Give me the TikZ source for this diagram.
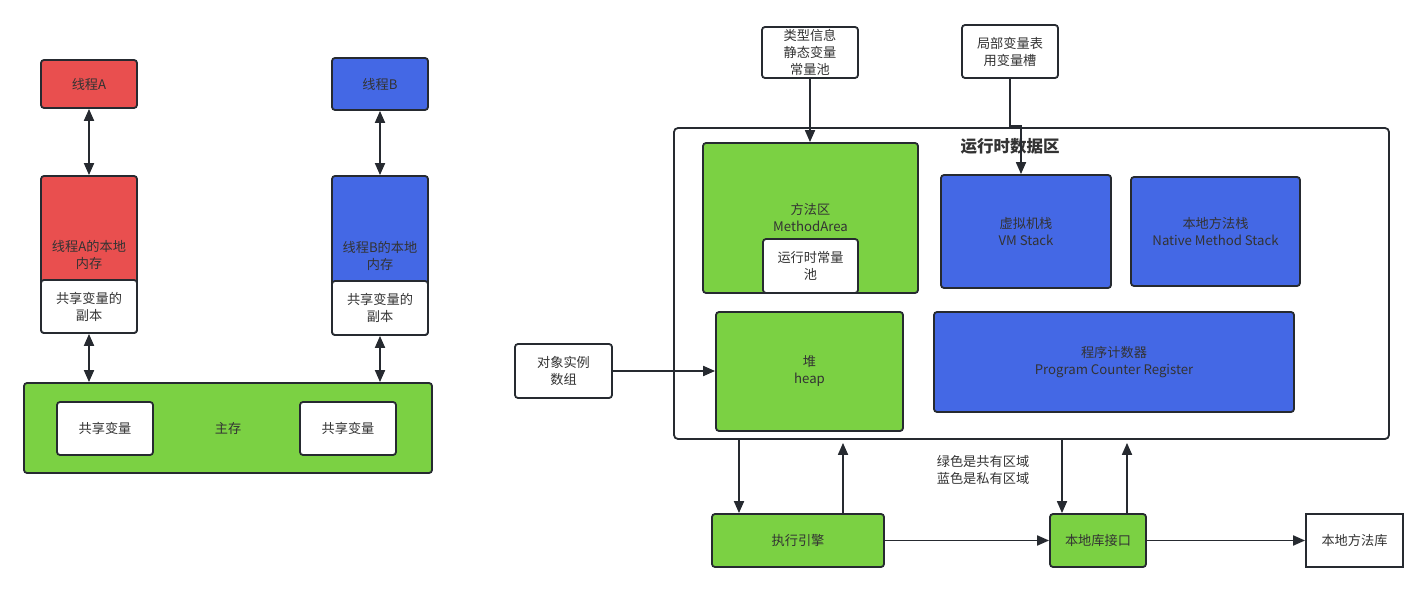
\documentclass[tikz,border=0pt]{standalone}
\usepackage{fontspec}
\setmainfont{Noto Sans CJK SC}
\usepackage{xcolor}
\definecolor{ThreadRed}{HTML}{E94F4F}
\definecolor{ThreadBlue}{HTML}{4468E5}
\definecolor{AreaGreen}{HTML}{7BD143}
\definecolor{EdgeDark}{HTML}{262A30}
\definecolor{TextGrey}{HTML}{333333}
\usetikzlibrary{positioning,arrows.meta}

\begin{document}
\begin{tikzpicture}[x=1pt, y=-1pt,
  box/.style={draw=EdgeDark, line width=1.8pt, rounded corners=3pt, fill=white,
    text=TextGrey, align=center, inner sep=0pt,
    font=\fontsize{13.2}{17}\selectfont},
  arr/.style={draw=EdgeDark, line width=1.8pt, -{Triangle[length=12pt,width=10pt]}},
  dbl/.style={draw=EdgeDark, line width=1.8pt,
    {Triangle[length=12pt,width=10pt]}-{Triangle[length=12pt,width=10pt]}}]
  \useasboundingbox (0,0) rectangle (1427,593);

  %% threads and their local memory
  \node (thA) [box, fill=ThreadRed, minimum width=96, minimum height=48] at (89,84) {线程A};
  \node (thB) [box, fill=ThreadBlue, minimum width=96, minimum height=52] at (380,84) {线程B};
  \node (memA) [box, fill=ThreadRed, minimum width=96, minimum height=157] at (89,254.5) {线程A的本地\\内存};
  \node (copyA) [box, minimum width=96, minimum height=53] at (89,306.5) {共享变量的\\副本};
  \node (memB) [box, fill=ThreadBlue, minimum width=96, minimum height=159] at (380,255.5) {线程B的本地\\内存};
  \node (copyB) [box, minimum width=96, minimum height=54] at (380,308) {共享变量的\\副本};

  %% main memory
  \node (mainmem) [box, fill=AreaGreen, minimum width=408, minimum height=90] at (228,428) {主存};
  \node (sharedA) [box, minimum width=96, minimum height=53] at (105,428.5) {共享变量};
  \node (sharedB) [box, minimum width=96, minimum height=53] at (348,428.5) {共享变量};

  \draw[dbl] (thA) -- (memA.north);
  \draw[dbl] (thB) -- (memB.north);
  \draw[dbl] (copyA.south) -- (copyA.south |- mainmem.north);
  \draw[dbl] (copyB.south) -- (copyB.south |- mainmem.north);

  %% runtime data area
  \node (rda) [box, rounded corners=4pt, minimum width=715, minimum height=311] at (1031.5,283.5) {};
  \node (rdatitle) [text=TextGrey, font=\fontsize{16.5}{20}\selectfont\bfseries] at (1010,146) {运行时数据区};
  \node (method) [box, fill=AreaGreen, minimum width=215, minimum height=150] at (810.5,218) {方法区\\MethodArea};
  \node (pool) [box, minimum width=95, minimum height=54] at (810.5,266) {运行时常量\\池};
  \node (vmstack) [box, fill=ThreadBlue, minimum width=170, minimum height=113] at (1026,231.5) {虚拟机栈\\VM Stack};
  \node (nstack) [box, fill=ThreadBlue, minimum width=169, minimum height=109] at (1215.5,231.5) {本地方法栈\\Native Method Stack};
  \node (heap) [box, fill=AreaGreen, minimum width=187, minimum height=119] at (809.5,371.5) {堆\\heap};
  \node (pcr) [box, fill=ThreadBlue, minimum width=360, minimum height=100] at (1114,362) {程序计数器\\Program Counter Register};

  %% outside boxes
  \node (typeinfo) [box, minimum width=96, minimum height=51] at (810,52.5) {类型信息\\静态变量\\常量池};
  \node (locals) [box, minimum width=96, minimum height=53] at (1010,51.5) {局部变量表\\用变量槽};
  \node (objs) [box, minimum width=97, minimum height=54] at (563.5,371) {对象实例\\数组};
  \node (engine) [box, fill=AreaGreen, minimum width=172, minimum height=53] at (798,540.5) {执行引擎};
  \node (nif) [box, fill=AreaGreen, minimum width=96, minimum height=53] at (1098,540.5) {本地库接口};
  \node (nlib) [box, rounded corners=0pt, minimum width=97, minimum height=53] at (1354.5,540.5) {本地方法库};
  \node (legend) [text=TextGrey, align=center, font=\fontsize{13.2}{17}\selectfont] at (983,470) {绿色是共有区域\\蓝色是私有区域};

  %% connectors
  \coordinate (bend) at (1021,126);
  \draw[arr] (typeinfo.south) -- (typeinfo.south |- method.north);
  \draw[arr] (locals.south) |- (bend) -- (bend |- vmstack.north);
  \draw[arr] (objs.east) -- (objs.east -| heap.west);
  \draw[arr] ([xshift=-59]engine.north |- rda.south) -- ([xshift=-59]engine.north);
  \draw[arr] ([xshift=45]engine.north) -- ([xshift=45,yshift=-3]engine.north |- rda.south);
  \draw[arr] (engine) -- (nif);
  \draw[arr] ([xshift=-36]nif.north |- rda.south) -- ([xshift=-36]nif.north);
  \draw[arr] ([xshift=29]nif.north) -- ([xshift=29,yshift=-3]nif.north |- rda.south);
  \draw[arr] (nif) -- (nlib);
\end{tikzpicture}
\end{document}
